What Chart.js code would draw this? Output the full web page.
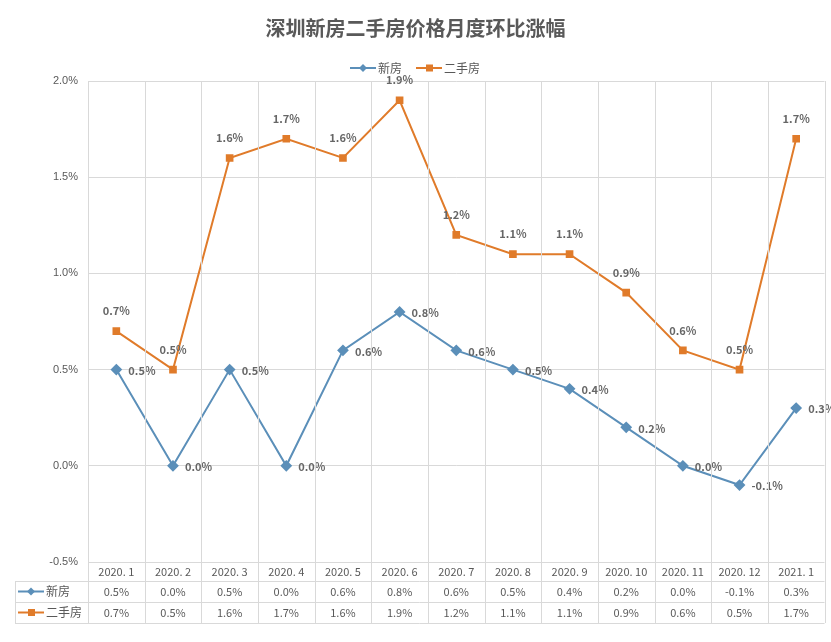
<!DOCTYPE html>
<html><head><meta charset="utf-8">
<script src="https://cdn.jsdelivr.net/npm/chart.js@4"></script>
<style>html,body{margin:0;padding:0;background:#fff}#w{width:831px;height:642px}</style>
</head><body><div id="w"><canvas id="c"></canvas></div>
<script>
const categories=['2020. 1','2020. 2','2020. 3','2020. 4','2020. 5','2020. 6','2020. 7','2020. 8','2020. 9','2020. 10','2020. 11','2020. 12','2021. 1'];
const newHome=[0.5,0.0,0.5,0.0,0.6,0.8,0.6,0.5,0.4,0.2,0.0,-0.1,0.3];
const resale=[0.7,0.5,1.6,1.7,1.6,1.9,1.2,1.1,1.1,0.9,0.6,0.5,1.7];
const yTicks=[-0.5,0,0.5,1.0,1.5,2.0];
const blue='#5b8fb9', orange='#e07b2a';
const fmt=v=>v.toFixed(1)+'%';
const lg=(c,x,y,col,txt,sq)=>{c.strokeStyle=col;c.lineWidth=2;c.beginPath();c.moveTo(x,y);c.lineTo(x+26,y);c.stroke();c.fillStyle=col;
    if(sq)c.fillRect(x+10,y-3.5,7,7);else{c.beginPath();c.moveTo(x+13,y-4);c.lineTo(x+17,y);c.lineTo(x+13,y+4);c.lineTo(x+9,y);c.fill();}
    c.fillStyle='#595959';c.textAlign='left';c.textBaseline='middle';c.fillText(txt,x+28,y);};
const labelsPlugin={id:'lbl',afterDatasetsDraw(ch){
  const c=ch.ctx;c.save();c.font='bold 11px "Noto Sans CJK SC", sans-serif';c.fillStyle='#666';c.textBaseline='middle';
  ch.getDatasetMeta(0).data.forEach((p,i)=>{c.textAlign='left';c.fillText(fmt(newHome[i]),p.x+12,p.y+1);});
  ch.getDatasetMeta(1).data.forEach((p,i)=>{c.textAlign='center';c.fillText(fmt(resale[i]),p.x,p.y-20);});
  c.font='12px "Noto Sans CJK SC", sans-serif';
  lg(c,350,68,blue,'新房',false);lg(c,416,68,orange,'二手房',true);
  c.restore();}};
const tablePlugin={id:'tbl',afterDraw(ch){
  const c=ch.ctx,x=ch.scales.x,a=ch.chartArea;c.save();
  const top=a.bottom,rows=[top,top+19,top+40,top+61];
  const left=15,right=a.right,step=(x.getPixelForValue(1)-x.getPixelForValue(0));
  c.strokeStyle='#d9d9d9';c.lineWidth=1;
  for(const r of [rows[1],rows[2],rows[3]]){c.beginPath();c.moveTo(left,r+0.5);c.lineTo(right,r+0.5);c.stroke();}
  c.beginPath();c.moveTo(left+0.5,rows[1]);c.lineTo(left+0.5,rows[3]);c.stroke();
  for(let i=0;i<=categories.length;i++){const xx=Math.round(x.getPixelForValue(i)-step/2)+0.5;c.beginPath();c.moveTo(xx,a.top);c.lineTo(xx,rows[3]);c.stroke();}
  c.font='11px "Noto Sans CJK SC", sans-serif';c.fillStyle='#595959';c.textBaseline='middle';c.textAlign='center';
  categories.forEach((t,i)=>{const xx=x.getPixelForValue(i);
    c.fillText(t,xx,(rows[0]+rows[1])/2);c.fillText(fmt(newHome[i]),xx,(rows[1]+rows[2])/2);c.fillText(fmt(resale[i]),xx,(rows[2]+rows[3])/2);});
  c.font='12px "Noto Sans CJK SC", sans-serif';
  lg(c,18,(rows[1]+rows[2])/2,blue,'新房',false);lg(c,18,(rows[2]+rows[3])/2,orange,'二手房',true);
  c.restore();}};
new Chart(document.getElementById('c'),{type:'line',
 data:{labels:categories,datasets:[
  {label:'新房',data:newHome,borderColor:blue,backgroundColor:blue,borderWidth:2,pointStyle:'rectRot',pointRadius:4.5,pointHoverRadius:4.5,tension:0},
  {label:'二手房',data:resale,borderColor:orange,backgroundColor:orange,borderWidth:2,pointStyle:'rect',pointRadius:4,pointHoverRadius:4,tension:0}]},
 options:{responsive:true,maintainAspectRatio:false,animation:false,
  layout:{padding:{left:0,right:0,top:0,bottom:72}},
  plugins:{title:{display:true,text:'深圳新房二手房价格月度环比涨幅',color:'#595959',font:{size:20,weight:'bold',family:'"Noto Sans CJK SC"'},padding:{top:16,bottom:41}},
   legend:{display:false},tooltip:{enabled:false}},
  scales:{x:{offset:true,grid:{display:false},border:{display:false},ticks:{display:false}},
   y:{min:-0.5,max:2.0,afterBuildTicks:s=>{s.ticks=yTicks.map(v=>({value:v}));},afterFit:s=>{s.width=88;},
    grid:{color:'#d9d9d9',drawTicks:false},border:{display:false},
    ticks:{color:'#595959',padding:10,font:{size:11},callback:v=>v.toFixed(1)+'%'}}}},
 plugins:[labelsPlugin,tablePlugin]});
</script></body></html>
